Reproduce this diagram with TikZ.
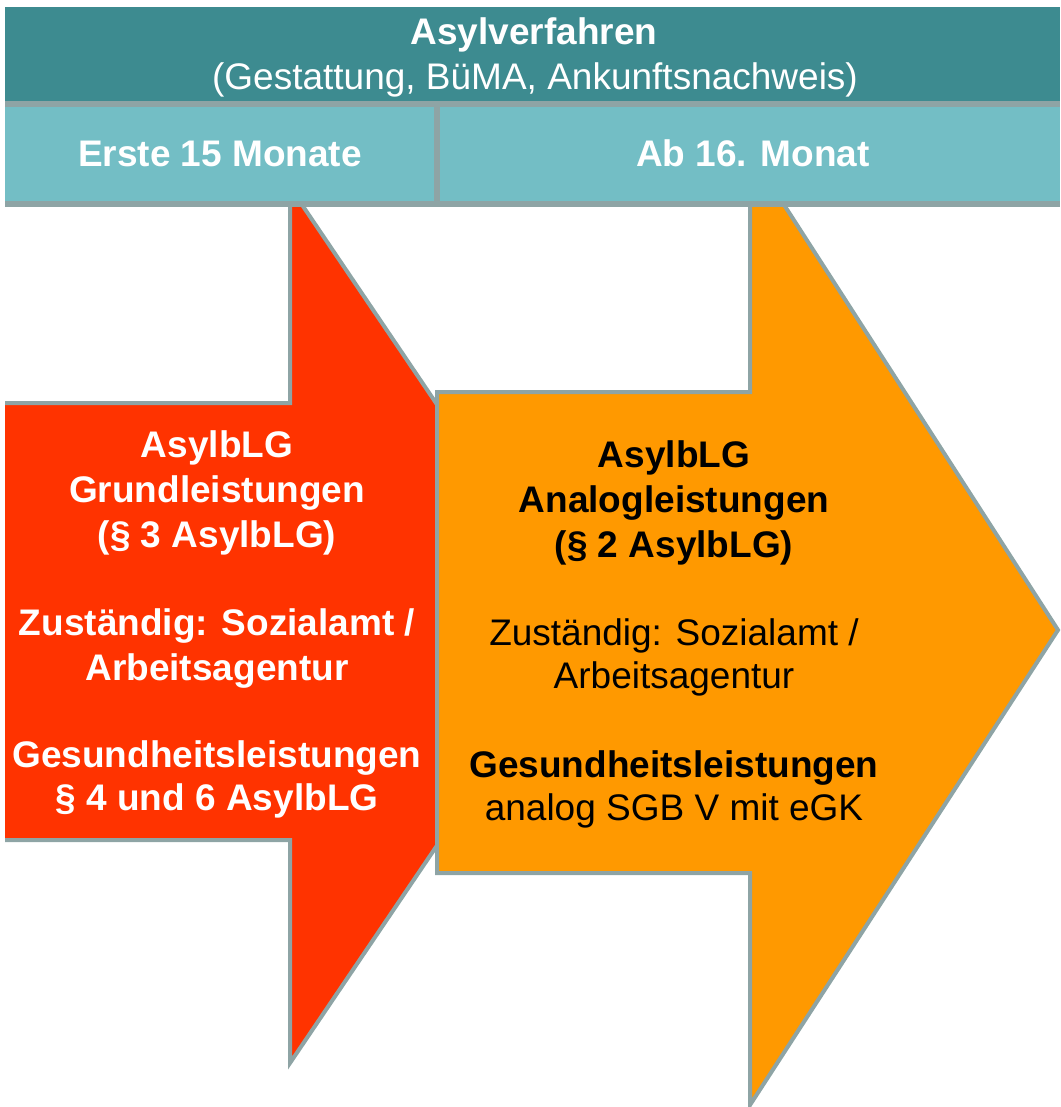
\documentclass[tikz,border=0pt]{standalone}
\usepackage{fontspec}
\setmainfont{Liberation Sans}
\definecolor{darkteal}{HTML}{3D8B90}
\definecolor{lightteal}{HTML}{73BEC5}
\definecolor{edgegray}{HTML}{8EA4A5}
\definecolor{arrowred}{HTML}{FF3300}
\definecolor{arroworange}{HTML}{FF9900}
\tikzset{
  txtb/.style={anchor=base, inner sep=0pt, font=\fontsize{37}{45}\selectfont\bfseries},
  txtr/.style={anchor=base, inner sep=0pt, font=\fontsize{37}{45}\selectfont},
  arrowedge/.style={draw=edgegray, line width=4pt, line join=miter},
}
\begin{document}
\begin{tikzpicture}[x=1pt,y=-1pt]
\useasboundingbox (0,0) rectangle (1060,1107);
% red arrow
\fill[arrowred] (5,403) -- (290,403) -- (290,187) -- (586,625) -- (290,1063) -- (290,840) -- (5,840) -- cycle;
\draw[arrowedge] (5,403) -- (290,403) -- (290,187) -- (586,625) -- (290,1063) -- (290,840) -- (5,840);
% orange arrow
\filldraw[fill=arroworange, arrowedge] (437,392) -- (750,392) -- (750,152) -- (1058,630) -- (750,1105) -- (750,873) -- (437,873) -- cycle;
% banner
\fill[darkteal] (5,7) rectangle (1060,101);
\fill[edgegray] (5,101) rectangle (1060,107);
\fill[lightteal] (5,107) rectangle (1060,201);
\fill[edgegray] (434,107) rectangle (440,201);
\fill[edgegray] (5,201) rectangle (1060,207);
% header texts
\node[txtb, text=white] (t1) at (534,45) {Asylverfahren};
\node[txtr, text=white] (t2) at (535,90) {(Gestattung, BüMA, Ankunftsnachweis)};
\node[txtb, text=white] (h1) at (220,167) {Erste 15 Monate};
\node[txtb, text=white] (h2) at (753,167) {Ab 16. Monat};
% red arrow texts
\node[txtb, text=white] (r1) at (217,457) {AsylbLG};
\node[txtb, text=white] (r2) at (217,502) {Grundleistungen};
\node[txtb, text=white] (r3) at (217,547) {(§ 3 AsylbLG)};
\node[txtb, text=white] (r4) at (217,635) {Zuständig: Sozialamt /};
\node[txtb, text=white] (r5) at (217,680) {Arbeitsagentur};
\node[txtb, text=white] (r6) at (217,767) {Gesundheitsleistungen};
\node[txtb, text=white] (r7) at (217,810) {§ 4 und 6 AsylbLG};
% orange arrow texts
\node[txtb] (o1) at (674,467) {AsylbLG};
\node[txtb] (o2) at (674,512) {Analogleistungen};
\node[txtb] (o3) at (674,557) {(§ 2 AsylbLG)};
\node[txtr] (o4) at (674,645) {Zuständig: Sozialamt /};
\node[txtr] (o5) at (674,688) {Arbeitsagentur};
\node[txtb] (o6) at (674,777) {Gesundheitsleistungen};
\node[txtr] (o7) at (674,820) {analog SGB V mit eGK};
\end{tikzpicture}
\end{document}
